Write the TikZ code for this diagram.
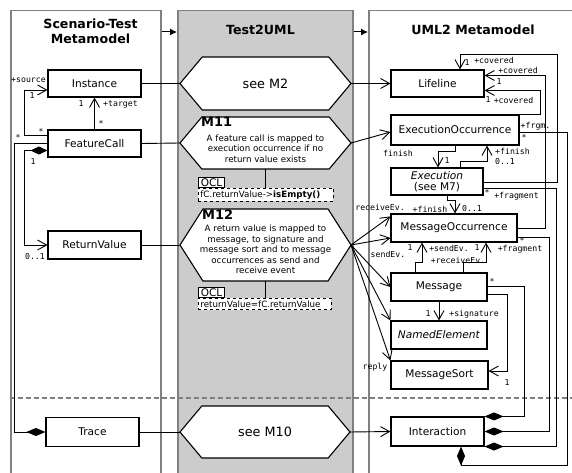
\documentclass[tikz,border=0pt]{standalone}
\usepackage{fontspec}
\setmainfont{DejaVu Sans}
\setmonofont{DejaVu Sans Mono}
\usetikzlibrary{arrows.meta, calc, shapes.symbols}

\begin{document}
\begin{tikzpicture}[x=1pt, y=-1pt,
  colbox/.style={draw=gray, line width=1.5pt, anchor=north west, minimum height=480pt,
                 inner sep=0pt},
  ttl/.style={font=\bfseries\fontsize{12.6}{15}\selectfont, align=center},
  cls/.style={draw, fill=white, line width=1.1pt, minimum height=27pt, inner sep=0pt,
              align=center, font=\fontsize{10.6}{11.5}\selectfont},
  hexa/.style={draw, fill=white, line width=1.1pt, shape=signal, signal to=east and west,
               signal pointer angle=100, minimum width=171pt, minimum height=53pt,
               inner sep=0pt, outer sep=0pt, font=\fontsize{12.8}{14}\selectfont},
  mttl/.style={font=\bfseries\fontsize{13}{14}\selectfont, inner sep=0pt, anchor=north west},
  mtxt/.style={font=\fontsize{8.7}{10.6}\selectfont, align=center, inner sep=0pt},
  ocltag/.style={draw, fill=white, line width=0.8pt, inner xsep=2.5pt, inner ysep=1.2pt,
                 text height=7.6pt, text depth=0pt, anchor=north west,
                 font=\fontsize{10.5}{11}\selectfont},
  oclexp/.style={draw, dashed, fill=white, line width=0.8pt, inner xsep=2pt, inner ysep=2.5pt,
                 align=left, anchor=north west, font=\fontsize{8.7}{10}\selectfont},
  lbl/.style={font=\ttfamily\fontsize{8.2}{9}\selectfont, inner sep=0pt},
  plain/.style={line width=0.9pt},
  assoc/.style={line width=0.9pt, -{Straight Barb[length=9pt, width=10pt]}},
  comp/.style={line width=0.9pt, {Diamond[length=19pt, width=8pt]}-},
  compassoc/.style={line width=0.9pt, {Diamond[length=17pt, width=8pt]}-{Straight Barb[length=9pt, width=10pt]}},
  colarrow/.style={line width=1pt, -{Latex[length=7pt, width=7pt]}},
  sepline/.style={draw=gray, line width=1.3pt, dash pattern=on 5pt off 3pt}
]
\useasboundingbox (0,0) rectangle (572,473);
\fill[white] (0,0) rectangle (572,473);

% ---- the three columns --------------------------------------------------
\node[colbox, minimum width=150pt] (scol) at (10,10) {};
\node[colbox, fill=gray!40, minimum width=175pt] (tcol) at (177,10) {};
\node[colbox, minimum width=220pt] (ucol) at (368,10) {};
\draw[colarrow] ($(scol.north east)+(0,22)$) -- ($(tcol.north west)+(0,22)$);
\draw[colarrow] ($(tcol.north east)+(0,22)$) -- ($(ucol.north west)+(0,22)$);
\node[ttl] (stitle) at (90.5,31) {Scenario-Test\\Metamodel};
\node[ttl] (ttitle) at (260.5,30) {Test2UML};
\node[ttl] (utitle) at (473,30) {UML2 Metamodel};
\draw[sepline] (10,398) -- (572,398);

% ---- scenario-test metamodel --------------------------------------------
\node[cls, minimum width=93pt] (inst) at (94.5,83.5) {Instance};
\node[cls, minimum width=93pt] (fcall) at (94.5,143.5) {FeatureCall};
\node[cls, minimum width=93pt, minimum height=28pt] (retval) at (94.5,245) {ReturnValue};
\node[cls, minimum width=93pt, minimum height=29pt] (trace) at (92.5,432) {Trace};

% ---- mappings -----------------------------------------------------------
\node[hexa] (m2) at (265.5,83.5) {see M2};
\node[hexa, minimum height=52pt] (m11) at (265.5,143) {};
\node[mttl] (m11ttl) at (201,117) {M11};
\node[mtxt] (m11txt) at (265.5,148.5)
  {A feature call is mapped to\\execution occurrence if no\\return value exists};
\node[ocltag] (ocl1tag) at (198,177) {OCL};
\node[oclexp, text width=131pt] (ocl1) at (198,187.5) {fC.returnValue->\textbf{isEmpty()}};
\node[hexa, minimum height=72pt, signal pointer angle=115] (m12) at (265.5,245) {};
\node[mttl] (m12ttl) at (202,210) {M12};
\node[mtxt] (m12txt) at (265.5,249.5)
  {A return value is mapped to\\message, to signature and\\message sort and to message\\
   occurrences as send and\\receive event};
\node[ocltag] (ocl2tag) at (198,287) {OCL};
\node[oclexp, text width=129pt] (ocl2) at (198,297.5) {returnValue=fC.returnValue};
\node[hexa, minimum width=170pt, minimum height=52pt] (m10) at (265,432) {see M10};
\draw[plain] (m11.south) -- (ocl1.north -| m11.south);
\draw[plain] (m12.south) -- (ocl2.north -| m12.south);

% ---- uml2 metamodel -----------------------------------------------------
\node[cls, minimum width=93pt] (lifeline) at (437.5,83.5) {Lifeline};
\node[cls, minimum width=128pt, minimum height=30pt] (exocc) at (455,130) {ExecutionOccurrence};
\node[cls, minimum width=92pt] (exec) at (437,181.5) {\textit{Execution}\\(see M7)};
\node[cls, minimum width=126pt, minimum height=28pt] (msgocc) at (454,228) {MessageOccurrence};
\node[cls, minimum width=96pt, minimum height=28pt] (msg) at (439,287) {Message};
\node[cls, minimum width=96pt, minimum height=28pt] (named) at (439,335) {\textit{NamedElement}};
\node[cls, minimum width=97pt, minimum height=28pt] (msort) at (439.5,375) {MessageSort};
\node[cls, minimum width=93pt, minimum height=29pt] (interact) at (437.5,431.5) {Interaction};

% ---- left associations --------------------------------------------------
\draw[assoc] (fcall.north) -- (inst.south);
\draw[assoc] ($(fcall.north west)+(0,6)$) -| ($(inst.west)+(-23,6.5)$) -- ($(inst.west)+(0,6.5)$);
\draw[compassoc] ($(fcall.west)+(0,7)$) -| ($(retval.west)+(-23,0)$) -- (retval.west);
\draw[comp] (trace.west) -- ++(-31,0) |- (fcall.west);

% ---- mapping links ------------------------------------------------------
\draw[plain] (inst.east) -- (m2.west);
\draw[plain] (fcall.east) -- (m11.west);
\draw[plain] (retval.east) -- (m12.west);
\draw[plain] (trace.east) -- (m10.west);
\draw[assoc] (m2.east) -- (lifeline.west);
\draw[assoc] (m11.east) -- ($(exocc.west)+(0,2)$);
\draw[assoc] (m12.east) -- ($(msgocc.north west)+(0,3)$);
\draw[assoc] (m12.east) -- ($(msgocc.west)+(0,10)$);
\draw[assoc] (m12.east) -- (msg.west);
\draw[assoc] (m12.east) -- (named.north west);
\draw[assoc] (m12.east) -- (msort.north west);
\draw[assoc] (m10.east) -- (interact.west);

% ---- uml2 associations --------------------------------------------------
\draw[assoc] ($(exec.east)+(0,0.5)$) -- ++(74,0) |- ($(lifeline.north)+(22.5,-15)$)
  -- ($(lifeline.north)+(22.5,0)$);
\draw[assoc] (msgocc.east) -- ++(28,0) |- ($(lifeline.east)+(0,-8)$);
\draw[assoc] (exocc.north east) -- ++(21,0) |- ($(lifeline.east)+(0,7)$);
\draw[assoc] (exocc.south) -- ++(0,6) -| ($(exec.north)+(1,0)$);
\draw[assoc] ($(exec.north)+(23,0)$) -- ++(0,-6) -| ($(exocc.south)+(32,0)$);
\draw[assoc] ($(exec.south)+(10,0)$) -- ++(0,5) -| ($(msgocc.north)+(1,0)$);
\draw[assoc] ($(msg.north)+(-24,0)$) -- ++(0,-10) -| ($(msgocc.south)+(-32,0)$);
\draw[assoc] ($(msg.north)+(24,0)$) -- ++(0,-10) -| ($(msgocc.south)+(32,0)$);
\draw[assoc] (msg.south) -- (named.north);
\draw[assoc] ($(msg.east)+(0,7)$) -- ++(20,0) |- ($(msort.east)+(0,-4)$);
\draw[comp] ($(interact.south)+(23.5,0)$) -- ++(0,19) -| ($(exocc.east)+(48,2)$) -- ($(exocc.east)+(0,2)$);
\draw[comp] (interact.south east) -- ++(72,0) |- ($(exec.east)+(0,6.5)$);
\draw[comp] (interact.east) -- ++(65,0) |- ($(msgocc.east)+(0,9)$);
\draw[comp] (interact.north east) -- ++(40,0) |- ($(msg.east)+(0,-1)$);

% ---- role names and multiplicities --------------------------------------
\foreach \n/\x/\y/\t in {s1/28.5/80/+source, s2/32/96/1, s3/41/131/*, t1/81/104/1,
    t2/120.5/105/+target, t3/101/123/*, tr/18/137/*, r1/33/162/1, r2/35/257/0..1,
    c1/467/63/1, c2/494/60/+covered, c3/518/70/+covered, c4/499/82/1, c5/488/100/1,
    c6/513.5/100/+covered, f1/535.5/126/+frgm., f2/524/137/*, x1/398/153/finish,
    x2/447/161/1, x3/512.5/151/+finish, x4/505/162/0..1, g1/487/192/*,
    g2/516.5/196/+fragment, m1/380/207/receiveEv., m2/430/209/+finish, m3/472/209/0..1,
    o1/522/240/*, o2/520/249/+fragment, o3/388/254/sendEv., e1/410/248/1,
    e2/449/248/+sendEv., e3/477/248/1, e4/458/260/+receiveEv., e5/492/281/*,
    n1/428/314/1, n2/474/314/+signature, y1/375/367/reply, y2/507/383/1}
  \node[lbl] (lab\n) at (\x,\y) {\t};
\end{tikzpicture}
\end{document}
